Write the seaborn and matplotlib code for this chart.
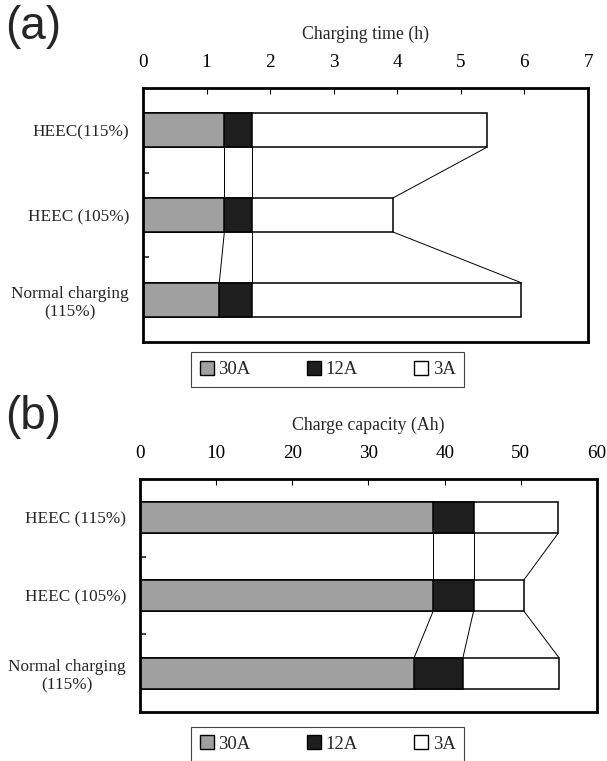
import numpy as np
import matplotlib.pyplot as plt
from matplotlib.patches import Patch
import seaborn as sns

# panel (a): charging time (h) per charging step
cats_a = ["HEEC(115%)", "HEEC (105%)", "Normal charging\n(115%)"]
time_30a = [1.28, 1.28, 1.20]
time_12a = [0.44, 0.44, 0.52]
time_3a = [3.69, 2.21, 4.23]
ticks_a = [0, 1, 2, 3, 4, 5, 6, 7]

# panel (b): charge capacity (Ah) per charging step
cats_b = ["HEEC (115%)", "HEEC (105%)", "Normal charging\n(115%)"]
cap_30a = [38.5, 38.5, 36.0]
cap_12a = [5.3, 5.3, 6.4]
cap_3a = [11.1, 6.6, 12.6]
ticks_b = [0, 10, 20, 30, 40, 50, 60]

steps = ["30A", "12A", "3A"]
colors = ["#a0a0a0", "#1e1e1e", "white"]

sns.set_style("white")
plt.rcParams['font.family'] = ['Liberation Serif', 'DejaVu Serif']

fig = plt.figure(figsize=(6.07, 7.61), dpi=100)
ax_a = fig.add_axes([0.2356, 0.5506, 0.7331, 0.3338])
ax_b = fig.add_axes([0.2306, 0.0644, 0.7529, 0.3062])


def draw_panel(ax, cats, segs, ticks, xlabel):
    ends = np.cumsum(np.array(segs), axis=0)
    # stacked bars: draw totals first, then overlay shorter cumulative sums
    for k in reversed(range(len(steps))):
        sns.barplot(x=ends[k], y=cats, orient="h", color=colors[k], saturation=1,
                    edgecolor="black", linewidth=1.1, width=0.4, ax=ax)
    # connector lines between segment boundaries of neighbouring bars
    for i in range(len(cats) - 1):
        for k in range(len(steps)):
            ax.plot([ends[k, i], ends[k, i + 1]], [i + 0.2, i + 0.8],
                    color="black", lw=0.7)
    ax.set_xlim(ticks[0], ticks[-1])
    ax.set_ylim(2.5, -0.5)
    ax.set_xticks(ticks)
    ax.xaxis.tick_top()
    ax.xaxis.set_label_position("top")
    ax.set_xlabel(xlabel, fontsize=12.8, labelpad=11)
    ax.set_ylabel("")
    ax.tick_params(axis="x", direction="in", length=4, width=0.8, labelsize=13.8,
                   pad=12, top=True, bottom=False, colors="black")
    ax.tick_params(axis="y", which="major", length=0, labelsize=12.4, pad=10)
    ax.set_yticks([0.5, 1.5], minor=True)
    ax.tick_params(axis="y", which="minor", direction="in", length=4, width=1.2,
                   left=True)
    for lab in ax.get_yticklabels():
        lab.set_multialignment("center")
    for sp in ax.spines.values():
        sp.set_visible(True)
        sp.set_color("black")
        sp.set_linewidth(2)


draw_panel(ax_a, cats_a, [time_30a, time_12a, time_3a], ticks_a, "Charging time (h)")
draw_panel(ax_b, cats_b, [cap_30a, cap_12a, cap_3a], ticks_b, "Charge capacity (Ah)")

handles = [Patch(facecolor=c, edgecolor="black", label=s) for s, c in zip(steps, colors)]
for ax, y in [(ax_a, 0.537), (ax_b, 0.045)]:
    leg = ax.legend(handles=handles, ncol=3, loc="upper center",
                    bbox_to_anchor=(0.54, y), bbox_transform=fig.transFigure,
                    frameon=True, fancybox=False, edgecolor="#444444", framealpha=1,
                    fontsize=13.5, handlelength=0.75, handleheight=0.75,
                    handletextpad=0.25, columnspacing=3.0, borderpad=0.45,
                    borderaxespad=0)
    leg.get_frame().set_linewidth(0.8)

fig.text(0.008, 0.993, "(a)", family="Liberation Sans", fontsize=33, va="top")
fig.text(0.008, 0.481, "(b)", family="Liberation Sans", fontsize=33, va="top")

fig.savefig("out.png", dpi=100)
